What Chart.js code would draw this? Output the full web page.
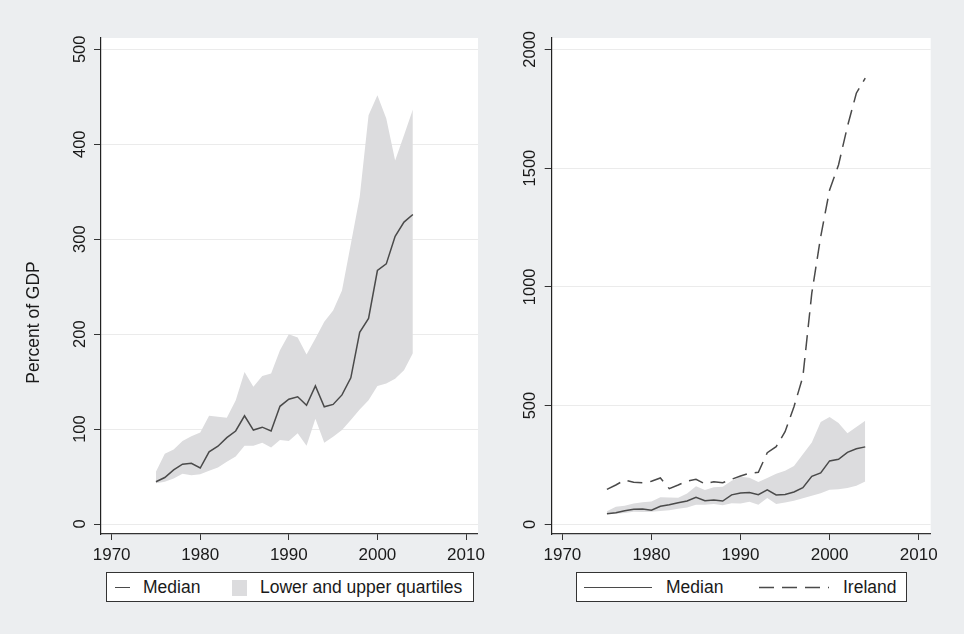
<!DOCTYPE html>
<html>
<head>
<meta charset="utf-8">
<script src="https://cdn.jsdelivr.net/npm/chart.js@4.4.0/dist/chart.umd.min.js"></script>
<style>
  html, body { margin: 0; padding: 0; }
  body { width: 964px; height: 634px; background: #eceef0; position: relative; overflow: hidden;
         font-family: "Liberation Sans", Arial, Helvetica, sans-serif; color: #1a1a1a; }
  canvas { position: absolute; top: 0; }
  #c1 { left: 0; }
  #c2 { left: 482px; }
  .legend { position: absolute; top: 572px; height: 30px; box-sizing: border-box;
            border: 1px solid #333; background: #fff; font-size: 17.5px; line-height: 28px; }
  .legend span { position: absolute; top: 0; white-space: nowrap; }
  .legend .ln { position: absolute; top: 14px; border-top: 1.5px solid #4a4a4a; height: 0; }
  .legend .sq { position: absolute; top: 7px; width: 15px; height: 16px; background: #dcdcde; }
</style>
</head>
<body>
<canvas id="c1" width="490" height="565"></canvas>
<canvas id="c2" width="482" height="565"></canvas>

<div class="legend" style="left:106px; width:368px;">
  <div class="ln" style="left:8px; width:15px;"></div>
  <span style="left:36px;">Median</span>
  <div class="sq" style="left:125px;"></div>
  <span style="left:153px;">Lower and upper quartiles</span>
</div>
<div class="legend" style="left:576px; width:331px;">
  <div class="ln" style="left:7px; width:68px;"></div>
  <span style="left:89px;">Median</span>
  <svg style="position:absolute; left:182px; top:9px;" width="70" height="10">
    <line x1="0" y1="5.5" x2="70" y2="5.5" stroke="#4a4a4a" stroke-width="1.5" stroke-dasharray="15 8"></line>
  </svg>
  <span style="left:266px;">Ireland</span>
</div>

<script>
///// DATA /////
const years = [1975, 1976, 1977, 1978, 1979, 1980, 1981, 1982, 1983, 1984,
               1985, 1986, 1987, 1988, 1989, 1990, 1991, 1992, 1993, 1994,
               1995, 1996, 1997, 1998, 1999, 2000, 2001, 2002, 2003, 2004];
const median = [44.5, 49, 57, 63, 64, 59, 76, 82, 91, 98,
                114, 99, 102, 98, 124, 131.5, 134, 125, 145.5, 123.5,
                126, 136, 154, 202, 216.5, 267, 274, 303, 318, 326];
const upperQ = [55, 74, 78.5, 87.5, 92.5, 96.5, 114, 113, 112, 130,
                160, 144.5, 156, 158.5, 183, 200, 196.5, 178.5, 195.5, 213,
                225, 246, 295, 344.5, 430.5, 451.5, 427, 383, 409.5, 436.5];
const lowerQ = [43, 44.5, 48, 53, 51.5, 52.5, 56, 59.5, 65.5, 71,
                82.5, 82.5, 85.5, 80.5, 88.5, 87.5, 95.5, 82.5, 111, 85.5,
                92, 99, 109.5, 120.5, 130.5, 145.5, 148, 153, 162, 180];
const ireland = [147, 165.5, 186.5, 177, 175, 181, 195, 150, 165.5, 182,
                 189.5, 170, 179.5, 175, 189.5, 203.5, 215, 219, 301.5, 327,
                 390, 495, 622, 973, 1211, 1408, 1513, 1675, 1815, 1879];
const xTicks = [1970, 1980, 1990, 2000, 2010];
const yTicksLeft = [0, 100, 200, 300, 400, 500];
const yTicksRight = [0, 500, 1000, 1500, 2000];

const FONT = '"Liberation Sans", Arial, Helvetica, sans-serif';
const LINE = '#4a4a4a';
const BAND = '#dcdcde';

const pts = arr => arr.map((v, i) => ({ x: years[i], y: v }));

// white plot region, grey outside
const plotBg = {
  id: 'plotBg',
  beforeDraw(chart) {
    const a = chart.chartArea, c = chart.ctx;
    c.save();
    c.fillStyle = '#ffffff';
    c.fillRect(a.left, a.top, a.right - a.left, a.bottom - a.top);
    c.restore();
  }
};

// y title placed like the original (not centred on the axis)
const yTitle = {
  id: 'yTitle',
  afterDraw(chart, args, opts) {
    if (!opts.text) return;
    const c = chart.ctx;
    c.save();
    c.translate(opts.x, opts.y);
    c.rotate(-Math.PI / 2);
    c.font = '17.5px ' + FONT;
    c.fillStyle = '#1a1a1a';
    c.textAlign = 'center';
    c.textBaseline = 'middle';
    c.fillText(opts.text, 0, 0);
    c.restore();
  }
};

function makeOptions(yMin, yMax, yTicks, yAxisWidth, padRight, yPad, title) {
  return {
    responsive: false,
    devicePixelRatio: 1,
    animation: false,
    layout: { padding: { top: 38, right: padRight, left: 0, bottom: 0 } },
    elements: { point: { radius: 0 }, line: { tension: 0 } },
    plugins: {
      legend: { display: false },
      tooltip: { enabled: false },
      yTitle: title
    },
    scales: {
      x: {
        type: 'linear',
        min: 1968.8,
        max: 2011.35,
        afterBuildTicks: s => { s.ticks = xTicks.map(v => ({ value: v })); },
        afterFit: s => { s.height = 31; },
        border: { color: '#333', width: 1.2 },
        grid: { drawOnChartArea: false, drawTicks: true, tickLength: 6, tickColor: '#333', tickWidth: 1 },
        ticks: {
          autoSkip: false, maxRotation: 0, padding: 4.8,
          color: '#1a1a1a', font: { family: FONT, size: 17 },
          callback: v => String(v)
        }
      },
      y: {
        min: yMin,
        max: yMax,
        afterBuildTicks: s => { s.ticks = yTicks.map(v => ({ value: v })); },
        afterFit: s => { s.width = yAxisWidth; },
        border: { color: '#222', width: 1.2 },
        grid: { color: '#ebebeb', lineWidth: 1, drawTicks: true, tickLength: 7, tickColor: '#333', tickWidth: 1 },
        ticks: {
          minRotation: 90, maxRotation: 90, crossAlign: 'center', padding: yPad,
          color: '#1a1a1a', font: { family: FONT, size: 16.5 },
          callback: v => String(v)
        }
      }
    }
  };
}

// band datasets get a higher order so they are painted beneath the lines
const bandSets = () => [
  { label: 'Upper quartile', data: pts(upperQ), borderWidth: 0, borderColor: 'rgba(0,0,0,0)',
    backgroundColor: BAND, fill: '+1', order: 2 },
  { label: 'Lower quartile', data: pts(lowerQ), borderWidth: 0, borderColor: 'rgba(0,0,0,0)',
    fill: false, order: 2 }
];

///// LEFT PANEL /////
new Chart(document.getElementById('c1'), {
  type: 'line',
  data: {
    datasets: bandSets().concat([
      { label: 'Median', data: pts(median), borderColor: LINE, borderWidth: 1.5, fill: false, order: 0 }
    ])
  },
  options: makeOptions(-10.5, 511.9, yTicksLeft, 101, 9, 0,
                       { text: 'Percent of GDP', x: 34, y: 322.5 }),
  plugins: [plotBg, yTitle]
});

///// RIGHT PANEL /////
new Chart(document.getElementById('c2'), {
  type: 'line',
  data: {
    datasets: bandSets().concat([
      { label: 'Median', data: pts(median), borderColor: LINE, borderWidth: 1.5, fill: false, order: 0 },
      { label: 'Ireland', data: pts(ireland), borderColor: LINE, borderWidth: 1.5,
        borderDash: [15, 8], fill: false, order: 0 }
    ])
  },
  options: makeOptions(-40.8, 2047.6, yTicksRight, 69.7, 33.3, -4.4, { text: '' }),
  plugins: [plotBg, yTitle]
});
</script>
</body>
</html>
